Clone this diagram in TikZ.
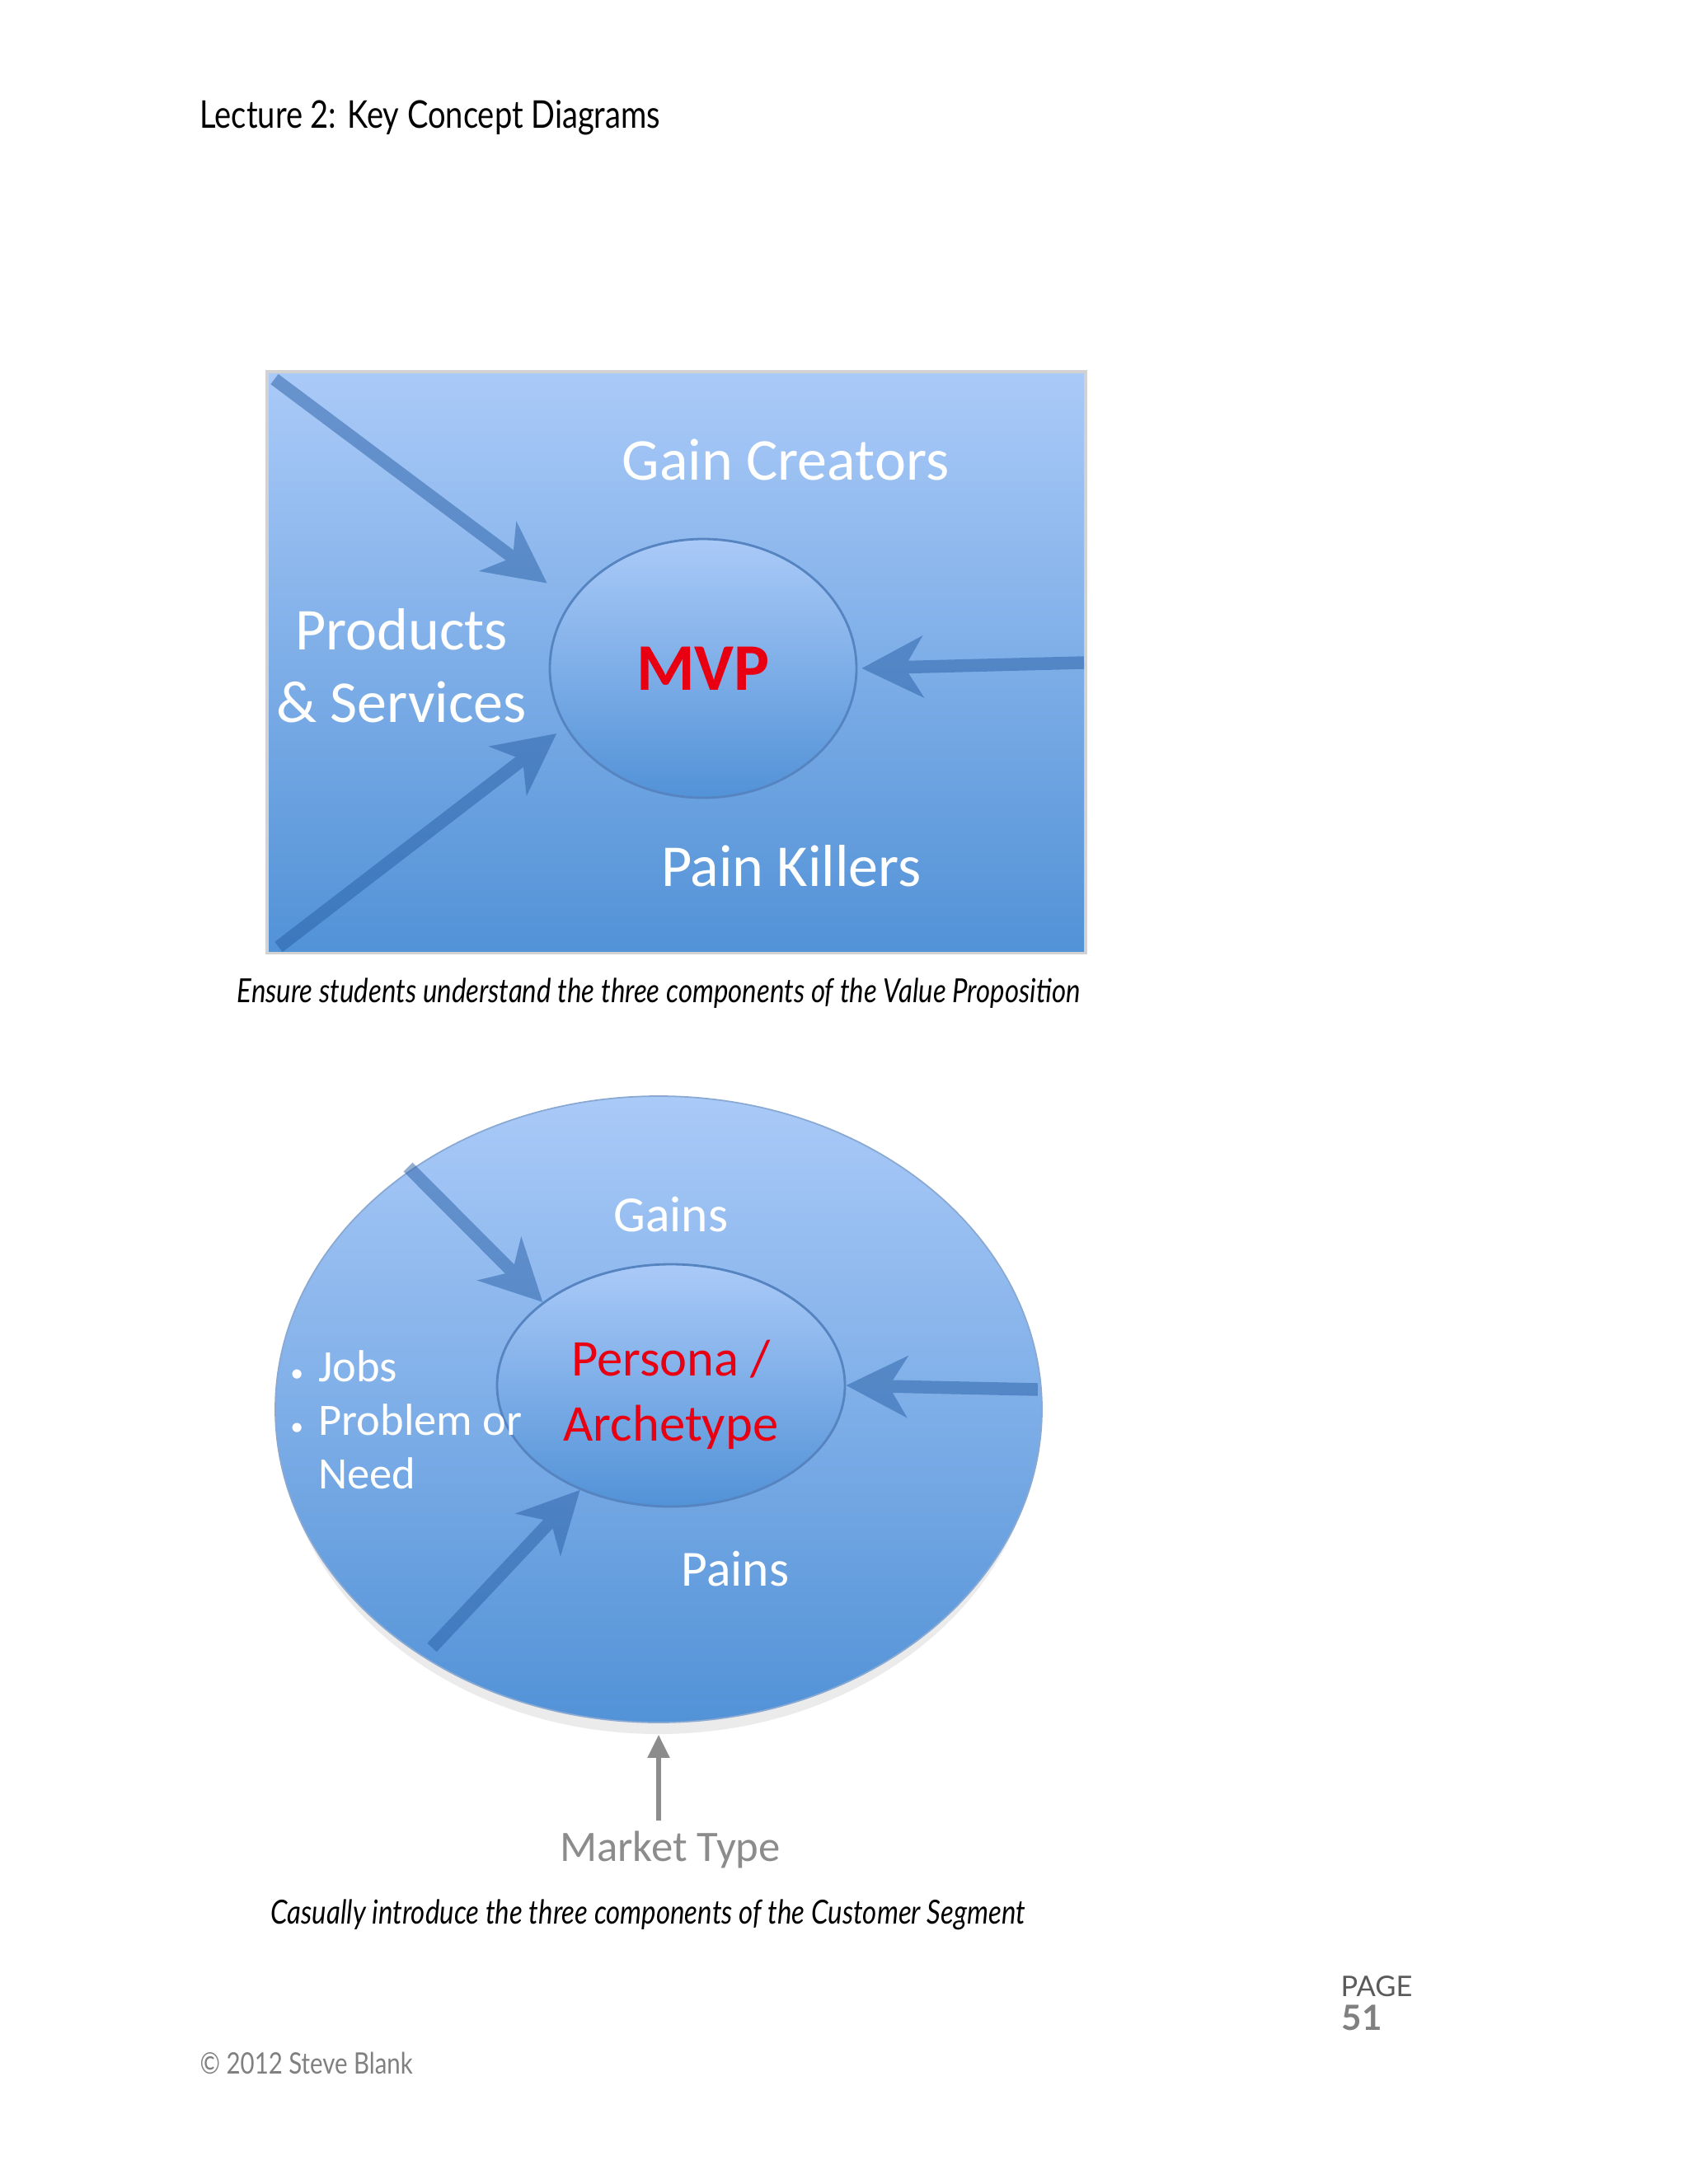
\documentclass[tikz,border=0pt]{standalone}
\usepackage{fontspec}
\setmainfont{Lato}
\newfontfamily\calibri{Carlito}
\newfontfamily\gillnarrow[FakeStretch=0.82]{Lato}
\usetikzlibrary{shapes.geometric,arrows.meta,positioning}

\definecolor{skytop}{RGB}{170,202,248}
\definecolor{skybot}{RGB}{82,146,215}
\definecolor{arrowblue}{RGB}{40,95,165}
\definecolor{rimblue}{RGB}{86,132,192}
\definecolor{mvpred}{RGB}{232,0,18}
\definecolor{pagegray}{RGB}{128,128,128}
\definecolor{markgray}{RGB}{140,140,140}

\begin{document}
\begin{tikzpicture}[
        % --- Shape styles ---
        blob/.style={
            ellipse, draw=rimblue, line width=0.8pt,
            top color=skytop, bottom color=skybot, inner sep=0pt
        },
        whitelbl/.style={
            text=white, align=center,
            font=\calibri\fontsize{20.5}{25}\selectfont
        },
        smalllbl/.style={
            text=white, align=center,
            font=\calibri\fontsize{17.5}{21}\selectfont
        },
        push/.style={
            arrowblue, line width=4.4pt,
            -{Stealth[length=0.74cm, width=0.74cm, inset=0.22cm]}
        },
        caption/.style={font=\gillnarrow\itshape\fontsize{11.45}{14}\selectfont},
        pagetext/.style={anchor=base west, inner sep=0pt},
    ]

    % ===== Page =====
    \useasboundingbox[fill=white] (0,0) rectangle (20.48,-26.50);

    \node[pagetext, font=\gillnarrow\fontsize{13.2}{16}\selectfont] (title)
        at (2.42,-1.56) {Lecture 2: Key Concept Diagrams};

    % ===== Value Proposition =====
    \draw[gray!35, line width=2.5pt] (3.26,-4.53) rectangle (13.15,-11.54);
    \shade[top color=skytop, bottom color=skybot] (3.26,-4.53) rectangle (13.15,-11.54);

    \node[blob, minimum width=3.72cm, minimum height=3.14cm,
          text=mvpred, font=\calibri\bfseries\fontsize{23}{27}\selectfont] (mvp)
        at (8.53,-8.11) {MVP};

    \node[whitelbl] (gaincreators) at (9.53,-5.58) {Gain Creators};
    \node[whitelbl] (products) at (4.87,-8.08) {Products\\\& Services};
    \node[whitelbl] (painkillers) at (9.60,-10.51) {Pain Killers};

    \coordinate (vpTL) at (3.33,-4.60);
    \coordinate (vpBL) at (3.38,-11.49);
    \coordinate (vpR)  at (13.15,-8.04);

    \begin{scope}[transparency group, opacity=0.5]
        \draw[push, shorten >=0.36cm] (vpTL) -- (mvp.153);
        \draw[push, shorten >=0.13cm] (vpBL) -- (mvp.203);
        \draw[push, shorten >=0.05cm] (vpR) -- (mvp.0);
    \end{scope}

    \node[caption] (cap1) at (7.99,-12.05)
        {Ensure students understand the three components of the Value Proposition};

    % ===== Customer Segment =====
    \fill[gray!70, opacity=0.22] (7.99,-17.22) ellipse (4.60cm and 3.82cm);
    \node[blob, draw=rimblue!70, line width=0.5pt,
          minimum width=9.30cm, minimum height=7.60cm] (segment) at (7.99,-17.10) {};
    \node[blob, minimum width=4.22cm, minimum height=2.94cm] (persona) at (8.14,-16.81) {};
    \node[text=mvpred, align=center, font=\calibri\fontsize{17.8}{22.5}\selectfont] (personalbl)
        at (8.14,-16.92) {Persona /\\Archetype};

    \node[smalllbl] (gains) at (8.14,-14.74) {Gains};
    \node[smalllbl] (pains) at (8.92,-19.04) {Pains};
    \node[text=white, align=left, anchor=west,
          font=\calibri\fontsize{15.5}{18.5}\selectfont] (jobs) at (3.40,-17.23)
        {\makebox[0.34cm][l]{\small•}Jobs\\\makebox[0.34cm][l]{\small•}Problem or\\\makebox[0.34cm][l]{}Need};

    \coordinate (csTL) at (4.95,-14.16);
    \coordinate (csBL) at (5.24,-19.99);
    \coordinate (csR)  at (12.59,-16.86);

    \begin{scope}[transparency group, opacity=0.5]
        \draw[push] (csTL) -- (persona.147);
        \draw[push] (csBL) -- (persona.229);
        \draw[push] (csR) -- (persona.0);
    \end{scope}

    % ===== Market type =====
    \node[text=markgray, font=\calibri\fontsize{15}{18}\selectfont] (market)
        at (8.13,-22.44) {Market Type};
    \draw[markgray, line width=1.5pt, shorten >=0.14cm,
          -{Triangle[length=0.28cm, width=0.26cm]}]
        (market.north -| segment.south) -- (segment.south);

    \node[caption] (cap2) at (7.86,-23.23)
        {Casually introduce the three components of the Customer Segment};

    % ===== Footer =====
    \node[pagetext, text=pagegray!70!black, font=\fontsize{9.8}{12}\selectfont] (pagelbl)
        at (16.26,-24.22) {PAGE};
    \node[pagetext, text=pagegray, font=\bfseries\fontsize{12}{14}\selectfont] (pagenum)
        at (16.27,-24.63) {51};
    \node[pagetext, text=pagegray, font=\gillnarrow\fontsize{10.2}{12}\selectfont] (copy)
        at (2.42,-25.16) {© 2012 Steve Blank};

\end{tikzpicture}
\end{document}
